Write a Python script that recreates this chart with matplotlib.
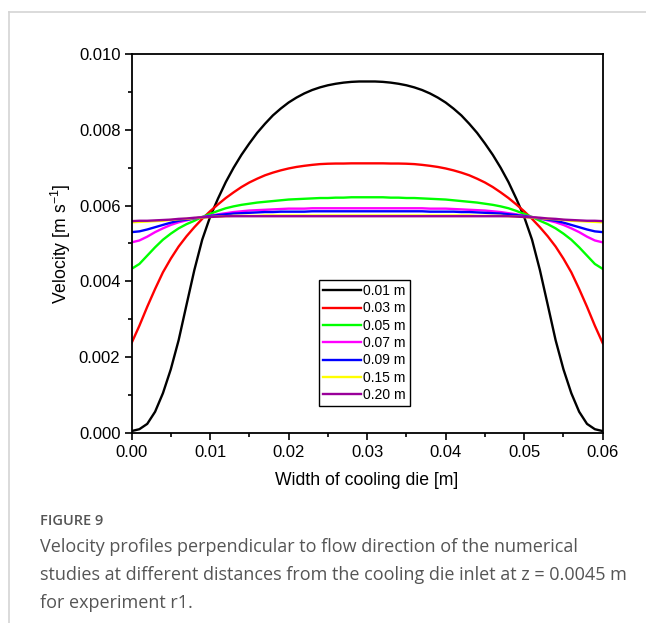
import numpy as np
from matplotlib import pyplot as plt
from matplotlib.lines import Line2D

plt.rcParams['font.family'] = ['Liberation Sans', 'DejaVu Sans']
plt.rcParams['mathtext.fontset'] = 'custom'
plt.rcParams['mathtext.rm'] = 'Liberation Sans'

# width positions across the cooling die [m], every 1 mm
width = [round(0.001 * i, 3) for i in range(61)]

# velocity profiles [m/s] (left half, centre, right half)
v_001 = [0.00005, 0.0001, 0.00024, 0.00056, 0.00105, 0.00168, 0.00245, 0.00338, 0.0043, 0.0051,
         0.0057, 0.00618, 0.00662, 0.0070, 0.00734, 0.00764, 0.00792, 0.00816, 0.00838, 0.00856,
         0.00872, 0.00885, 0.00896, 0.00905, 0.00912, 0.009175, 0.009215, 0.009245, 0.009265, 0.009275,
         0.009275,
         0.009275, 0.009265, 0.009245, 0.009215, 0.009175, 0.00912, 0.00905, 0.00896, 0.00885, 0.00872,
         0.00856, 0.00838, 0.00816, 0.00792, 0.00764, 0.00734, 0.0070, 0.00662, 0.00618, 0.0057,
         0.0051, 0.0043, 0.00338, 0.00245, 0.00168, 0.00105, 0.00056, 0.00024, 0.0001, 0.00005]
v_003 = [0.00237, 0.00283, 0.00333, 0.0038, 0.00424, 0.0046, 0.00492, 0.00519, 0.00543, 0.00565,
         0.00585, 0.00603, 0.0062, 0.00635, 0.00649, 0.00661, 0.00671, 0.0068, 0.00687, 0.00693,
         0.00698, 0.00702, 0.00705, 0.007075, 0.007095, 0.007105, 0.00711, 0.00711, 0.007115, 0.007115,
         0.007115,
         0.007115, 0.007115, 0.00711, 0.00711, 0.007105, 0.007095, 0.007075, 0.00705, 0.00702, 0.00698,
         0.00693, 0.00687, 0.0068, 0.00671, 0.00661, 0.00649, 0.00635, 0.0062, 0.00603, 0.00585,
         0.00565, 0.00543, 0.00519, 0.00492, 0.0046, 0.00424, 0.0038, 0.00333, 0.00283, 0.00237]
v_005 = [0.00433, 0.00446, 0.00468, 0.0049, 0.0051, 0.00526, 0.0054, 0.00551, 0.0056, 0.0057,
         0.00578, 0.00586, 0.00593, 0.00598, 0.00602, 0.00605, 0.00608, 0.0061, 0.00612, 0.00614,
         0.00616, 0.00617, 0.00618, 0.00619, 0.0062, 0.0062, 0.00621, 0.00621, 0.00622, 0.00622,
         0.00622,
         0.00622, 0.00622, 0.00621, 0.00621, 0.0062, 0.0062, 0.00619, 0.00618, 0.00617, 0.00616,
         0.00614, 0.00612, 0.0061, 0.00608, 0.00605, 0.00602, 0.00598, 0.00593, 0.00586, 0.00578,
         0.0057, 0.0056, 0.00551, 0.0054, 0.00526, 0.0051, 0.0049, 0.00468, 0.00446, 0.00433]
v_007 = [0.00503, 0.00508, 0.00518, 0.0053, 0.0054, 0.00549, 0.00556, 0.00561, 0.00566, 0.0057,
         0.00573, 0.00577, 0.0058, 0.00583, 0.00585, 0.00587, 0.00588, 0.00589, 0.0059, 0.00591,
         0.00592, 0.00592, 0.00592, 0.00593, 0.00593, 0.00593, 0.00593, 0.00593, 0.00593, 0.00593,
         0.00593,
         0.00593, 0.00593, 0.00593, 0.00593, 0.00593, 0.00593, 0.00593, 0.00592, 0.00592, 0.00592,
         0.00591, 0.0059, 0.00589, 0.00588, 0.00587, 0.00585, 0.00583, 0.0058, 0.00577, 0.00573,
         0.0057, 0.00566, 0.00561, 0.00556, 0.00549, 0.0054, 0.0053, 0.00518, 0.00508, 0.00503]
v_009 = [0.0053, 0.00532, 0.00537, 0.00543, 0.00549, 0.00555, 0.0056, 0.00563, 0.00566, 0.00569,
         0.00572, 0.00575, 0.00577, 0.00579, 0.0058, 0.00581, 0.00582, 0.00583, 0.00583, 0.00584,
         0.00584, 0.00584, 0.00584, 0.00585, 0.00585, 0.00585, 0.00585, 0.00585, 0.00585, 0.00585,
         0.00585,
         0.00585, 0.00585, 0.00585, 0.00585, 0.00585, 0.00585, 0.00585, 0.00584, 0.00584, 0.00584,
         0.00584, 0.00583, 0.00583, 0.00582, 0.00581, 0.0058, 0.00579, 0.00577, 0.00575, 0.00572,
         0.00569, 0.00566, 0.00563, 0.0056, 0.00555, 0.00549, 0.00543, 0.00537, 0.00532, 0.0053]
v_015 = [0.00556, 0.00557, 0.00558, 0.00559, 0.0056, 0.00562, 0.00564, 0.00565, 0.00567, 0.00568,
         0.0057, 0.00571, 0.00572, 0.00573, 0.00573, 0.00573, 0.00573, 0.00574, 0.00574, 0.00574,
         0.00574, 0.00574, 0.00574, 0.00574, 0.00574, 0.00574, 0.00574, 0.00574, 0.00574, 0.00574,
         0.00574,
         0.00574, 0.00574, 0.00574, 0.00574, 0.00574, 0.00574, 0.00574, 0.00574, 0.00574, 0.00574,
         0.00574, 0.00574, 0.00574, 0.00573, 0.00573, 0.00573, 0.00573, 0.00572, 0.00571, 0.0057,
         0.00568, 0.00567, 0.00565, 0.00564, 0.00562, 0.0056, 0.00559, 0.00558, 0.00557, 0.00556]
v_020 = [0.00559, 0.0056, 0.0056, 0.00561, 0.00562, 0.00563, 0.00565, 0.00566, 0.00568, 0.00569,
         0.0057, 0.00571, 0.00572, 0.00572, 0.00572, 0.00572, 0.00572, 0.00572, 0.00572, 0.00572,
         0.00572, 0.00572, 0.00572, 0.00572, 0.00572, 0.00572, 0.00572, 0.00572, 0.00572, 0.00572,
         0.00572,
         0.00572, 0.00572, 0.00572, 0.00572, 0.00572, 0.00572, 0.00572, 0.00572, 0.00572, 0.00572,
         0.00572, 0.00572, 0.00572, 0.00572, 0.00572, 0.00572, 0.00572, 0.00572, 0.00571, 0.0057,
         0.00569, 0.00568, 0.00566, 0.00565, 0.00563, 0.00562, 0.00561, 0.0056, 0.0056, 0.00559]

labels = ['0.01 m', '0.03 m', '0.05 m', '0.07 m', '0.09 m', '0.15 m', '0.20 m']
colors = ['black', '#ff0000', '#00ff00', '#ff00ff', '#0000ff', '#ffff00', '#990099']
profiles = [v_001, v_003, v_005, v_007, v_009, v_015, v_020]

fig = plt.figure(figsize=(6.46, 6.23), dpi=100)
ax = fig.add_axes([0.2036, 0.305, 0.7294, 0.6083])

for prof, col, lab in zip(profiles, colors, labels):
    ax.plot(width, prof, color=col, lw=1.7, label=lab)

ax.set_xlim(0, 0.06)
ax.set_ylim(0, 0.010)
xt = np.arange(0, 0.0601, 0.01)
yt = np.arange(0, 0.01001, 0.002)
ax.set_xticks(xt)
ax.set_xticks(np.arange(0.005, 0.06, 0.01), minor=True)
ax.set_yticks(yt)
ax.set_yticks(np.arange(0.001, 0.01, 0.002), minor=True)
ax.set_xticklabels(['%.2f' % t for t in xt])
ax.set_yticklabels(['%.3f' % t for t in yt])
ax.tick_params(which='major', direction='out', length=5, width=1.2, labelsize=12, pad=3)
ax.tick_params(axis='x', which='major', pad=4)
ax.tick_params(which='minor', direction='out', length=3, width=1.2)
for s in ax.spines.values():
    s.set_linewidth(1.3)

ax.set_xlabel('Width of cooling die [m]', fontsize=12.7, labelpad=8)
ax.set_ylabel(r'Velocity [m s$^{\mathregular{-1}}$]', fontsize=12.7, labelpad=4)

ax.legend(loc='upper left', bbox_to_anchor=(0.398, 0.404), fontsize=10,
          frameon=True, fancybox=False, edgecolor='black', framealpha=1,
          handlelength=2.7, handletextpad=0.15, labelspacing=0.24,
          borderpad=0.3, borderaxespad=0)

# page frame lines
fig.add_artist(Line2D([9 / 646, 1], [1 - 12 / 623, 1 - 12 / 623], color='#d4d4d4', lw=1.2))
fig.add_artist(Line2D([9 / 646, 9 / 646], [0, 1 - 12 / 623], color='#d4d4d4', lw=1.2))

cap = ['Open Sans', 'DejaVu Sans']
fig.text(40 / 646, 1 - 521 / 623, 'FIGURE 9', fontsize=10.5, color='#555555',
         family=cap, va='center', weight='semibold')
caption = ('Velocity profiles perpendicular to flow direction of the numerical\n'
           'studies at different distances from the cooling die inlet at z = 0.0045 m\n'
           'for experiment r1.')
fig.text(40 / 646, 1 - 538 / 623, caption, fontsize=12.95, color='#555555',
         family=cap, va='top', linespacing=1.72)

fig.savefig('out.png', dpi=100)
